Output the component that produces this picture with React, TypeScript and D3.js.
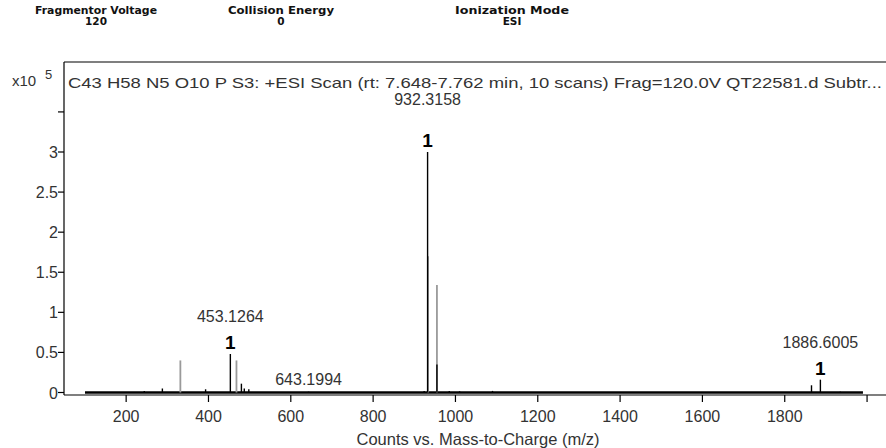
import React from "react";
import * as d3 from "d3";

const headerTitles = ["Fragmentor Voltage", "Collision Energy", "Ionization Mode"];
const headerValues = ["120", "0", "ESI"];

const yTicks = [0, 0.5, 1, 1.5, 2, 2.5, 3, 3.5];
const yTickLabels = ["0", "0.5", "1", "1.5", "2", "2.5", "3", ""];
const xTicks = [200, 400, 600, 800, 1000, 1200, 1400, 1600, 1800, 2000];
const xTickLabels = ["200", "400", "600", "800", "1000", "1200", "1400", "1600", "1800", ""];

// black peaks (m/z, counts x10^5)
const mainMz = [244, 288, 393, 453.1264, 480, 487, 498, 643.1994, 924, 932.3158, 955, 985, 1010, 1090, 1865, 1886.6005, 1935];
const mainInt = [0.02, 0.05, 0.04, 0.48, 0.11, 0.05, 0.04, 0.01, 0.02, 3.0, 0.35, 0.02, 0.015, 0.02, 0.09, 0.16, 0.01];
// grey peaks
const greyMz = [331.7, 468, 933.3, 955];
const greyInt = [0.4, 0.4, 1.7, 1.34];

const baselineRange = [100, 1990];

const annoMz = [932.3158, 453.1264, 643.1994, 1886.6005];
const annoText = ["932.3158", "453.1264", "643.1994", "1886.6005"];
const annoHeight = [3.0, 0.48, 0.01, 0.16];
const annoCharge = ["1", "1", "", "1"];

const title = "C43 H58 N5 O10 P S3: +ESI Scan (rt: 7.648-7.762 min, 10 scans) Frag=120.0V QT22581.d  Subtr...";

export default function App() {
  const left = 64, top = 62, right = 886, axisY = 395;
  const x = d3.scaleLinear().domain([49, 2046]).range([left, right]);
  const y = d3.scaleLinear().domain([0, 3]).range([392.5, 152]);
  const font = "'Liberation Sans', Arial, sans-serif";
  const headerX = [96, 281, 512];
  const headerW = [122, 106, 114];
  const labelGap = [47, 32, 7, 32];

  return (
    <svg width={886} height={448} style={{ position: "absolute", left: 0, top: 0, background: "#fff" }}>
      {headerTitles.map((t, i) => (
        <g key={t} fontFamily="'DejaVu Sans', Verdana, sans-serif" fontWeight="bold" fontSize={10.5} fill="#111" textAnchor="middle">
          <text x={headerX[i]} y={14} textLength={headerW[i]} lengthAdjust="spacingAndGlyphs">{t}</text>
          <text x={headerX[i]} y={25}>{headerValues[i]}</text>
        </g>
      ))}

      {/* frame */}
      <line x1={left} x2={right} y1={top} y2={top} stroke="#000" strokeWidth={1.2} />
      <line x1={left} x2={left} y1={top} y2={axisY} stroke="#000" strokeWidth={1.2} />
      <line x1={left} x2={right} y1={axisY} y2={axisY} stroke="#000" strokeWidth={1.2} />

      {/* y ticks */}
      {yTicks.map((v, i) => (
        <g key={"y" + v}>
          <line x1={left - 6} x2={left} y1={y(v)} y2={y(v)} stroke="#000" strokeWidth={1.2} />
          {yTickLabels[i] && (
            <text x={left - 6} y={y(v) + 6} textAnchor="end" fontFamily={font} fontSize={16} fill="#333">{yTickLabels[i]}</text>
          )}
        </g>
      ))}
      <text x={12} y={86} fontFamily={font} fontSize={15} fill="#333">x10</text>
      <text x={45} y={79} fontFamily={font} fontSize={13} fill="#333">5</text>

      {/* x ticks */}
      {xTicks.map((v, i) => (
        <g key={"x" + v}>
          <line x1={x(v)} x2={x(v)} y1={axisY} y2={axisY + 7} stroke="#000" strokeWidth={1.2} />
          {xTickLabels[i] && (
            <text x={x(v)} y={422} textAnchor="middle" fontFamily={font} fontSize={16} fill="#333">{xTickLabels[i]}</text>
          )}
        </g>
      ))}
      <text x={478} y={445} textAnchor="middle" fontFamily={font} fontSize={16.5} fill="#333">Counts vs. Mass-to-Charge (m/z)</text>

      <text x={68} y={88} fontFamily={font} fontSize={15} fill="#333" textLength={814} lengthAdjust="spacingAndGlyphs">{title}</text>

      {/* baseline */}
      <line x1={x(baselineRange[0])} x2={x(baselineRange[1])} y1={y(0)} y2={y(0)} stroke="#000" strokeWidth={2.5} />

      {/* grey peaks */}
      {greyMz.map((m, i) => (
        <line key={"g" + i} x1={x(m)} x2={x(m)} y1={y(0)} y2={y(greyInt[i])} stroke="#9a9a9a" strokeWidth={1.8} />
      ))}
      {/* black peaks */}
      {mainMz.map((m, i) => (
        <line key={"b" + i} x1={x(m)} x2={x(m)} y1={y(0)} y2={y(mainInt[i])} stroke="#000" strokeWidth={1.4} />
      ))}

      {/* annotations */}
      {annoMz.map((m, i) => (
        <g key={"a" + i} fontFamily={font} textAnchor="middle">
          <text x={x(m)} y={y(annoHeight[i]) - labelGap[i]} fontSize={16} fill="#333">{annoText[i]}</text>
          {annoCharge[i] && (
            <text x={x(m)} y={y(annoHeight[i]) - 5} fontSize={19} fontWeight="bold" fill="#000">{annoCharge[i]}</text>
          )}
        </g>
      ))}
    </svg>
  );
}
